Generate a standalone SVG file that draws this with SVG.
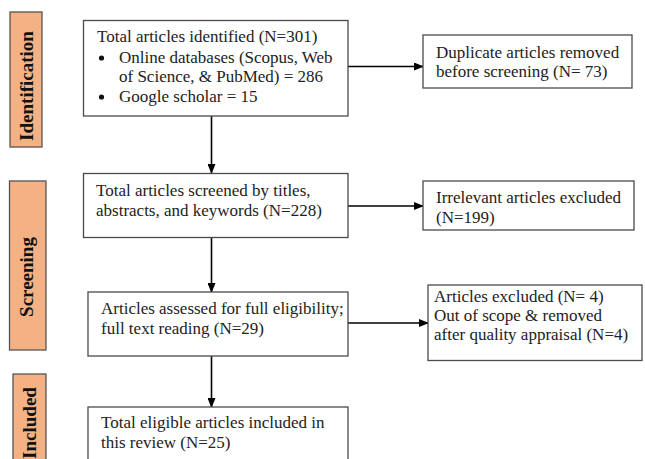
<svg xmlns="http://www.w3.org/2000/svg" width="645" height="459" viewBox="0 0 645 459">
<defs>
<marker id="ah" markerWidth="10" markerHeight="8" refX="9" refY="4" orient="auto" markerUnits="userSpaceOnUse">
<path d="M0,0 L10,4 L0,8 Z" fill="#000"/>
</marker>
<style>
.box{fill:#fff;stroke:#4a4a4a;stroke-width:1.3}
.lab{fill:#f4b183;stroke:#555;stroke-width:1.3}
.t{font-family:"Liberation Serif","Times New Roman",serif;font-size:17px;fill:#222}
.lt{font-family:"Liberation Serif","Times New Roman",serif;font-size:19px;font-weight:bold;fill:#111}
.c{stroke:#000;stroke-width:1.6;fill:none;marker-end:url(#ah)}
</style>
</defs>
<rect width="645" height="459" fill="#fff"/>
<g id="label-identification">
<rect class="lab" x="10" y="12" width="32" height="135"/>
<text class="lt" transform="translate(33,86) rotate(-90)" text-anchor="middle">Identification</text>
</g>
<g id="label-screening">
<rect class="lab" x="9.5" y="181" width="36.5" height="169"/>
<text class="lt" transform="translate(33,277) rotate(-90)" text-anchor="middle">Screening</text>
</g>
<g id="label-included">
<rect class="lab" x="13" y="374" width="33" height="90"/>
<text class="lt" transform="translate(36,423) rotate(-90)" text-anchor="middle">Included</text>
</g>
<g id="connectors">
<line class="c" x1="348" y1="66.5" x2="423" y2="66.5"/>
<line class="c" x1="348" y1="206" x2="423" y2="206"/>
<line class="c" x1="348" y1="323" x2="428" y2="323"/>
<line class="c" x1="211.5" y1="116" x2="211.5" y2="173"/>
<line class="c" x1="211.5" y1="238" x2="211.5" y2="292"/>
<line class="c" x1="211.5" y1="356" x2="211.5" y2="407"/>
</g>
<g id="identified">
<rect class="box" x="83.5" y="20.5" width="264.5" height="95.5"/>
<text class="t" x="97" y="42">Total articles identified (N=301)</text>
<circle cx="101.5" cy="58" r="2.6" fill="#111"/>
<text class="t" x="119" y="63">Online databases (Scopus, Web</text>
<text class="t" x="119" y="82">of Science, &amp; PubMed) = 286</text>
<circle cx="101.5" cy="97" r="2.6" fill="#111"/>
<text class="t" x="119" y="102">Google scholar = 15</text>
</g>
<g id="duplicates">
<rect class="box" x="423" y="35" width="209" height="53"/>
<text class="t" x="436" y="58">Duplicate articles removed</text>
<text class="t" x="436" y="77">before screening (N= 73)</text>
</g>
<g id="screened">
<rect class="box" x="83.5" y="173.5" width="264.5" height="64"/>
<text class="t" x="96" y="196">Total articles screened by titles,</text>
<text class="t" x="96" y="216">abstracts, and keywords (N=228)</text>
</g>
<g id="irrelevant">
<rect class="box" x="423" y="181" width="211" height="49"/>
<text class="t" x="436" y="203">Irrelevant articles excluded</text>
<text class="t" x="436" y="223">(N=199)</text>
</g>
<g id="assessed">
<rect class="box" x="88" y="292" width="260" height="64"/>
<text class="t" x="101" y="314">Articles assessed for full eligibility;</text>
<text class="t" x="101" y="334">full text reading (N=29)</text>
</g>
<g id="excluded">
<rect class="box" x="428" y="285" width="214" height="75.5"/>
<text class="t" x="434" y="302">Articles excluded (N= 4)</text>
<text class="t" x="434" y="321">Out of scope &amp; removed</text>
<text class="t" x="434" y="340">after quality appraisal (N=4)</text>
</g>
<g id="included">
<rect class="box" x="88" y="407" width="260" height="60"/>
<text class="t" x="101" y="428">Total eligible articles included in</text>
<text class="t" x="101" y="448">this review (N=25)</text>
</g>
</svg>
